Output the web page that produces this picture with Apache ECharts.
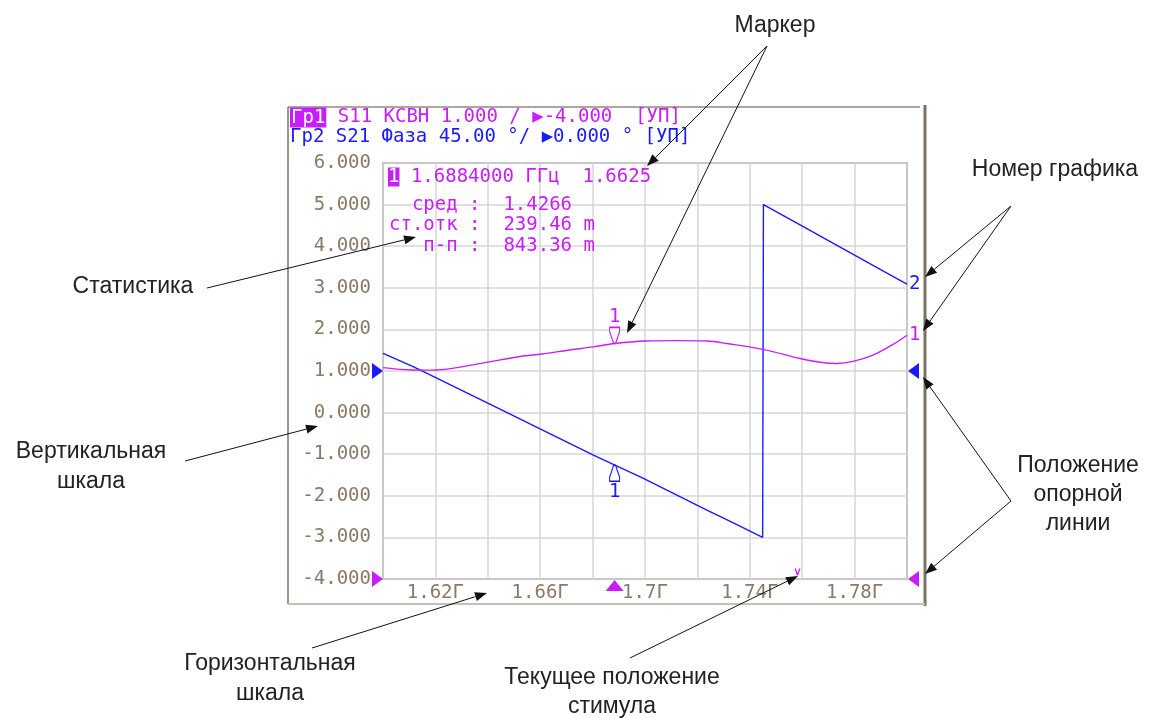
<!DOCTYPE html>
<html>
<head>
<meta charset="utf-8">
<script src="https://cdn.jsdelivr.net/npm/echarts@6/dist/echarts.min.js"></script>
<style>
html,body{margin:0;padding:0;background:#fff;}
#c{width:1163px;height:718px;}
</style>
</head>
<body>
<div id="c"></div>
<script>
// ---- data ----
// Trace 1: S11 VSWR (scale 1.000/div, ref -4.000)
const freqS11 = [1.6000,1.6065,1.6160,1.6237,1.6389,1.6523,1.6606,1.6706,1.6802,1.6885,1.7004,1.7115,1.7237,1.7313,1.7450,1.7592,1.7668,1.7733,1.7794,1.7870,1.7947,1.8000];
const vswrS11 = [1.08,1.04,1.02,1.04,1.20,1.35,1.41,1.50,1.58,1.66,1.72,1.73,1.72,1.66,1.52,1.30,1.21,1.18,1.23,1.38,1.64,1.86];
// Trace 2: S21 phase (45 deg/div, ref 0.000 deg)
const freqS21 = [1.6000,1.6135,1.6466,1.6803,1.6992,1.7198,1.7298,1.7449,1.7452,1.7719,1.7884,1.8000];
const phaseS21 = [19,2,-44,-91,-116,-145,-159,-180,180,138,112,94];
// Marker 1
const markerFreq = 1.6884;
const markerS11 = 1.6625;
const markerS21 = -102;
// Current stimulus position
const stimulusFreq = 1.7582;
// Axis ticks
const xLabelValues = [1.62,1.66,1.70,1.74,1.78];
const xLabelTexts = ['1.62Г','1.66Г','1.7Г','1.74Г','1.78Г'];
const yLabelValues = [-4,-3,-2,-1,0,1,2,3,4,5,6];
const yLabelTexts = ['-4.000','-3.000','-2.000','-1.000','0.000','1.000','2.000','3.000','4.000','5.000','6.000'];
// Header / statistics text
const headerLine1 = ' S11 КСВН 1.000 / ▶-4.000  [УП]';
const headerLine2 = 'Гр2 S21 Фаза 45.00 °/ ▶0.000 ° [УП]';
const markerLine = ' 1.6884000 ГГц  1.6625';
const statLines = ['  сред :  1.4266','ст.отк :  239.46 m','   п-п :  843.36 m'];

const MAG = '#c81eff';
const BLUE = '#1a1aff';
const LBL = '#8a7966';
const MONO = 'DejaVu Sans Mono';
const SANS = 'Liberation Sans';

const s11Data = freqS11.map((f,i)=>[f, vswrS11[i]]);
const s21Data = freqS21.map((f,i)=>[f, phaseS21[i]]);

function arrow(x1,y1,x2,y2){
  const a = Math.atan2(y2-y1, x2-x1);
  const L = 12, W = 4.5;
  const bx = x2 - L*Math.cos(a), by = y2 - L*Math.sin(a);
  const px = W*Math.sin(a), py = -W*Math.cos(a);
  return [
    {type:'line', z:100, shape:{x1:x1,y1:y1,x2:bx,y2:by}, style:{stroke:'#111', lineWidth:1}},
    {type:'polygon', z:100, shape:{points:[[x2,y2],[bx+px,by+py],[bx-px,by-py]]}, style:{fill:'#111'}}
  ];
}
function label(t,x,y){
  return {type:'text', z:100, x:x, y:y, style:{text:t, font:'23px "'+SANS+'"', fill:'#222', align:'center', verticalAlign:'middle'}};
}
const markerPath = 'path://M0,0 L10,0 L10,4 L6,16 L4,16 L0,4 Z';

const graphics = [
  // outer window frame
  {type:'line', shape:{x1:288,y1:107,x2:920,y2:107}, style:{stroke:'#8f8a80', lineWidth:1.5}},
  {type:'line', shape:{x1:288,y1:107,x2:288,y2:604}, style:{stroke:'#7d7565', lineWidth:1.5}},
  {type:'line', shape:{x1:925,y1:105,x2:925,y2:606}, style:{stroke:'#7a7365', lineWidth:3}},
  {type:'line', shape:{x1:288,y1:604,x2:925,y2:604}, style:{stroke:'#c4c0b6', lineWidth:2}},
  // header
  {type:'text', x:290, y:117.5, style:{
    text:'{hl|Гр1}{m|'+headerLine1+'}', verticalAlign:'middle',
    rich:{hl:{backgroundColor:MAG, fill:'#fff', font:'19px "'+MONO+'"', padding:[1,1,0,1]}, m:{fill:MAG, font:'19px "'+MONO+'"'}}}},
  {type:'text', x:290, y:137.5, style:{text:headerLine2, fill:BLUE, font:'19px "'+MONO+'"', verticalAlign:'middle'}},
  // marker readout & statistics
  {type:'text', z:50, x:388, y:177, style:{
    text:'{hl|1}{m|'+markerLine+'}', verticalAlign:'middle',
    rich:{hl:{backgroundColor:MAG, fill:'#fff', font:'19px "'+MONO+'"'}, m:{fill:MAG, font:'19px "'+MONO+'"'}}}},
  {type:'text', z:50, x:389, y:205, style:{text:statLines[0], fill:MAG, font:'19px "'+MONO+'"', verticalAlign:'middle'}},
  {type:'text', z:50, x:389, y:225.5, style:{text:statLines[1], fill:MAG, font:'19px "'+MONO+'"', verticalAlign:'middle'}},
  {type:'text', z:50, x:389, y:246, style:{text:statLines[2], fill:MAG, font:'19px "'+MONO+'"', verticalAlign:'middle'}},
  // annotation labels
  label('Маркер', 775, 26),
  label('Номер графика', 1055, 170),
  label('Статистика', 133, 287),
  label('Вертикальная', 91, 452),
  label('шкала', 91, 482),
  label('Положение', 1078, 466),
  label('опорной', 1078, 495),
  label('линии', 1078, 524),
  label('Горизонтальная', 270, 664),
  label('шкала', 270, 694),
  label('Текущее положение', 612, 678),
  label('стимула', 612, 707)
].concat(
  arrow(767,46,647,166),
  arrow(767,46,627,333),
  arrow(1011,206,925,277),
  arrow(1011,206,923,331),
  arrow(1011,501,923,377),
  arrow(1011,501,925,574),
  arrow(207,288,416,237),
  arrow(185,461,318,426),
  arrow(312,648,487,593),
  arrow(630,658,798,576)
);

const chart = echarts.init(document.getElementById('c'), null, {renderer:'canvas'});
chart.setOption({
  backgroundColor:'#fff',
  animation:false,
  grid:{left:383, top:163, width:524, height:416, show:true, borderColor:'#7f7f7f', borderWidth:1.5, backgroundColor:'#fff'},
  xAxis:{
    type:'value', min:1.6, max:1.8, interval:0.02,
    axisLine:{show:false}, axisTick:{show:false},
    splitLine:{show:true, lineStyle:{color:'#d6d6d6', width:1.5}},
    axisLabel:{
      margin:5, color:LBL, fontFamily:MONO, fontSize:19,
      showMinLabel:true, showMaxLabel:true,
      formatter:function(v){
        for (let i=0;i<xLabelValues.length;i++){ if (Math.abs(v-xLabelValues[i])<1e-6) return xLabelTexts[i]; }
        return '';
      }
    }
  },
  yAxis:[{
    type:'value', min:-4, max:6, interval:1,
    axisLine:{show:false}, axisTick:{show:false},
    splitLine:{show:true, lineStyle:{color:'#d6d6d6', width:1.5}},
    axisLabel:{
      margin:12, fontFamily:MONO, fontSize:19,
      color:function(v){ return Math.abs(v+4)<1e-6 ? MAG : LBL; },
      formatter:function(v){
        for (let i=0;i<yLabelValues.length;i++){ if (Math.abs(v-yLabelValues[i])<1e-6) return yLabelTexts[i]; }
        return '';
      }
    }
  },{
    type:'value', min:-225, max:225, interval:45, show:false,
    splitLine:{show:false}
  }],
  graphic:graphics,
  series:[{
    name:'S11', type:'line', data:s11Data, yAxisIndex:0,
    smooth:0.35, showSymbol:false, symbol:'none',
    lineStyle:{color:MAG, width:1.4}, z:3,
    endLabel:{show:true, formatter:'1', color:MAG, fontFamily:MONO, fontSize:19, distance:2},
    markPoint:{
      silent:true,
      data:[
        {coord:[markerFreq, markerS11], symbol:markerPath, symbolSize:[10,16], symbolOffset:[0,-8],
         itemStyle:{color:'#fff', borderColor:MAG, borderWidth:1.3},
         label:{show:true, position:'top', distance:0, formatter:'1', color:MAG, fontFamily:MONO, fontSize:19}},
        {coord:[1.6,-4], symbol:'triangle', symbolSize:[16,11], symbolRotate:-90, symbolOffset:[-5.5,0],
         itemStyle:{color:MAG}, label:{show:false}},
        {coord:[1.8,-4], symbol:'triangle', symbolSize:[16,11], symbolRotate:90, symbolOffset:[6.5,0],
         itemStyle:{color:MAG}, label:{show:false}},
        {coord:[markerFreq,-4], symbol:'triangle', symbolSize:[18,11], symbolOffset:[0,6.5],
         itemStyle:{color:MAG}, label:{show:false}},
        {coord:[stimulusFreq,-4], symbol:'path://M0,0 L1.6,0 L3.5,5 L5.4,0 L7,0 L4.2,8 L2.8,8 Z', symbolSize:[6,7], symbolOffset:[0,-7],
         itemStyle:{color:MAG}, label:{show:false}}
      ]
    }
  },{
    name:'S21', type:'line', data:s21Data, yAxisIndex:1,
    smooth:0.15, showSymbol:false, symbol:'none',
    lineStyle:{color:BLUE, width:1.4}, z:2,
    endLabel:{show:true, formatter:'2', color:BLUE, fontFamily:MONO, fontSize:19, distance:2},
    markPoint:{
      silent:true,
      data:[
        {coord:[markerFreq, markerS21], symbol:markerPath, symbolSize:[10,16], symbolRotate:180, symbolOffset:[0,8],
         itemStyle:{color:'#fff', borderColor:BLUE, borderWidth:1.3},
         label:{show:true, position:'bottom', distance:0, formatter:'1', color:BLUE, fontFamily:MONO, fontSize:19}},
        {coord:[1.6,0], symbol:'triangle', symbolSize:[16,11], symbolRotate:-90, symbolOffset:[-5.5,0],
         itemStyle:{color:BLUE}, label:{show:false}},
        {coord:[1.8,0], symbol:'triangle', symbolSize:[16,11], symbolRotate:90, symbolOffset:[6.5,0],
         itemStyle:{color:BLUE}, label:{show:false}}
      ]
    }
  }]
});
</script>
</body>
</html>
